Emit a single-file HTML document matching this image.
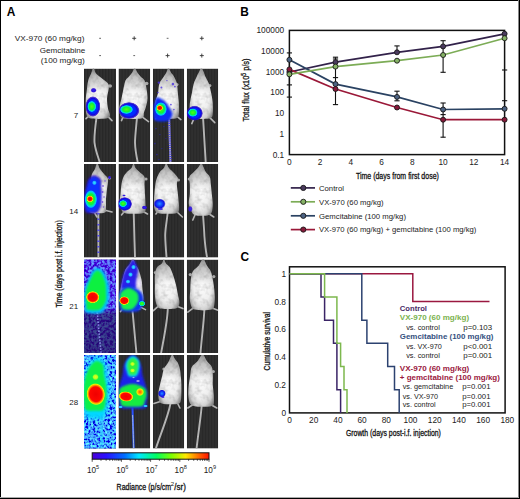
<!DOCTYPE html>
<html><head><meta charset="utf-8"><style>
html,body{margin:0;padding:0;background:#fff;}
svg text{font-family:"Liberation Sans", sans-serif;}
</style></head><body>
<svg width="520" height="499" viewBox="0 0 520 499" style="display:block">

<defs>
  <radialGradient id="mbody" cx="0.5" cy="0.5" r="0.62">
    <stop offset="0" stop-color="#fcfcfc"/>
    <stop offset="0.55" stop-color="#efefef"/>
    <stop offset="0.82" stop-color="#cdcdcd"/>
    <stop offset="1" stop-color="#8a8a8a"/>
  </radialGradient>
  <filter id="fur" x="-0.2" y="-0.1" width="1.4" height="1.2">
    <feTurbulence type="fractalNoise" baseFrequency="0.2" numOctaves="2" seed="7" result="t"/>
    <feColorMatrix in="t" type="matrix" values="0 0 0 0 0.25  0 0 0 0 0.25  0 0 0 0 0.25  1.2 0 0 0 -0.52" result="dark"/>
    <feComposite in="dark" in2="SourceGraphic" operator="atop" result="d2"/>
    <feGaussianBlur in="d2" stdDeviation="0.55"/>
  </filter>
  <filter id="soft" x="-0.2" y="-0.2" width="1.4" height="1.4"><feGaussianBlur stdDeviation="0.5"/></filter>
  <filter id="blur1" x="-0.3" y="-0.3" width="1.6" height="1.6"><feGaussianBlur stdDeviation="1"/></filter>
  <filter id="blur2" x="-0.3" y="-0.3" width="1.6" height="1.6"><feGaussianBlur stdDeviation="2"/></filter>
  <filter id="noiseB" x="0" y="0" width="1" height="1">
    <feTurbulence type="fractalNoise" baseFrequency="0.38" numOctaves="2" seed="4" result="n"/>
    <feColorMatrix type="matrix" in="n" values="0.25 0 0 0 -0.04  1.0 0 0 0 -0.42  1.1 0 0 0 0.27  0 0 0 0 1"/>
  </filter>
  <filter id="noiseB2" x="0" y="0" width="1" height="1">
    <feTurbulence type="fractalNoise" baseFrequency="0.42" numOctaves="2" seed="9" result="n"/>
    <feColorMatrix type="matrix" in="n" values="0.3 0 0 0 -0.1  2.4 0 0 0 -0.85  1.2 0 0 0 0.4  0 0 0 0 1"/>
  </filter>
  <linearGradient id="cbar" x1="0" x2="1" y1="0" y2="0">
    <stop offset="0" stop-color="#4a00d8"/>
    <stop offset="0.12" stop-color="#2a10ff"/>
    <stop offset="0.28" stop-color="#0070ff"/>
    <stop offset="0.4" stop-color="#00e8ff"/>
    <stop offset="0.55" stop-color="#00ff60"/>
    <stop offset="0.68" stop-color="#80ff00"/>
    <stop offset="0.8" stop-color="#ffe800"/>
    <stop offset="0.92" stop-color="#ff6000"/>
    <stop offset="1" stop-color="#ff1000"/>
  </linearGradient>
  <radialGradient id="lumR2">
    <stop offset="0" stop-color="#e80000"/>
    <stop offset="0.18" stop-color="#ff1800"/>
    <stop offset="0.28" stop-color="#ffd800"/>
    <stop offset="0.42" stop-color="#30ff20"/>
    <stop offset="0.58" stop-color="#00d8ff"/>
    <stop offset="0.74" stop-color="#0030ff"/>
    <stop offset="0.9" stop-color="#3010d0" stop-opacity="0.85"/>
    <stop offset="1" stop-color="#3010d0" stop-opacity="0"/>
  </radialGradient>
  <radialGradient id="lumRcore">
    <stop offset="0" stop-color="#f00000"/>
    <stop offset="0.66" stop-color="#ff0800"/>
    <stop offset="0.78" stop-color="#ff8000"/>
    <stop offset="0.9" stop-color="#f0f000"/>
    <stop offset="1" stop-color="#80ff20" stop-opacity="0"/>
  </radialGradient>
  <radialGradient id="lumG">
    <stop offset="0" stop-color="#a0ff20"/>
    <stop offset="0.25" stop-color="#20f040"/>
    <stop offset="0.45" stop-color="#00d8e0"/>
    <stop offset="0.65" stop-color="#0040ff"/>
    <stop offset="0.85" stop-color="#2a10d8" stop-opacity="0.9"/>
    <stop offset="1" stop-color="#2a10d8" stop-opacity="0"/>
  </radialGradient>
  <radialGradient id="lumBring">
    <stop offset="0" stop-color="#0038ff"/>
    <stop offset="0.62" stop-color="#0028ff"/>
    <stop offset="0.8" stop-color="#1408d8"/>
    <stop offset="0.92" stop-color="#3010c8" stop-opacity="0.75"/>
    <stop offset="1" stop-color="#4020c0" stop-opacity="0"/>
  </radialGradient>
  <radialGradient id="lumGcore">
    <stop offset="0" stop-color="#50ff10"/>
    <stop offset="0.55" stop-color="#10f038"/>
    <stop offset="0.72" stop-color="#00e8b0"/>
    <stop offset="0.86" stop-color="#00c0ff"/>
    <stop offset="1" stop-color="#0060ff" stop-opacity="0"/>
  </radialGradient>
  <radialGradient id="lumRsmall">
    <stop offset="0" stop-color="#e00000"/>
    <stop offset="0.5" stop-color="#ff1000"/>
    <stop offset="0.7" stop-color="#ff9000"/>
    <stop offset="0.85" stop-color="#f0f000"/>
    <stop offset="1" stop-color="#a0ff20" stop-opacity="0"/>
  </radialGradient>
  <radialGradient id="lumB">
    <stop offset="0" stop-color="#2a20f0"/>
    <stop offset="0.6" stop-color="#3414d8"/>
    <stop offset="1" stop-color="#3010d0" stop-opacity="0"/>
  </radialGradient>
  <radialGradient id="lumB2">
    <stop offset="0" stop-color="#3090ff"/>
    <stop offset="0.35" stop-color="#1050ff"/>
    <stop offset="0.75" stop-color="#1010e0"/>
    <stop offset="1" stop-color="#2010c0" stop-opacity="0"/>
  </radialGradient>
  <radialGradient id="lumC">
    <stop offset="0" stop-color="#30e8ff"/>
    <stop offset="0.6" stop-color="#20b0ff"/>
    <stop offset="1" stop-color="#2060ff" stop-opacity="0"/>
  </radialGradient>
  <radialGradient id="lumY">
    <stop offset="0" stop-color="#e8ff20"/>
    <stop offset="0.6" stop-color="#b0ff20"/>
    <stop offset="1" stop-color="#40ff40" stop-opacity="0"/>
  </radialGradient>
  <radialGradient id="lumOr">
    <stop offset="0" stop-color="#ff5000"/>
    <stop offset="0.4" stop-color="#ffa000"/>
    <stop offset="0.75" stop-color="#f0f000"/>
    <stop offset="1" stop-color="#80ff20" stop-opacity="0"/>
  </radialGradient>
  <radialGradient id="lumW">
    <stop offset="0" stop-color="#f0e0ff"/>
    <stop offset="1" stop-color="#c0a0ff" stop-opacity="0"/>
  </radialGradient>
  <linearGradient id="darkfade" x1="0" x2="0" y1="0" y2="1">
    <stop offset="0" stop-color="#1a1040" stop-opacity="0"/>
    <stop offset="0.15" stop-color="#1a1040" stop-opacity="0.55"/>
    <stop offset="1" stop-color="#1a1040" stop-opacity="0.62"/>
  </linearGradient>
  <linearGradient id="headshade" x1="0" x2="0" y1="0" y2="1">
    <stop offset="0" stop-color="#000" stop-opacity="0.28"/>
    <stop offset="0.3" stop-color="#000" stop-opacity="0.12"/>
    <stop offset="0.5" stop-color="#000" stop-opacity="0"/>
    <stop offset="1" stop-color="#000" stop-opacity="0"/>
  </linearGradient>
  <pattern id="streak" width="3" height="10" patternUnits="userSpaceOnUse">
    <rect width="1.5" height="10" fill="#000"/>
    <rect x="1.5" width="1.5" height="10" fill="#777"/>
  </pattern>
</defs>

<rect x="0" y="0" width="520" height="499" fill="#fff"/>
<text x="6.8" y="15.7" font-size="11.9" font-weight="bold" fill="#000">A</text>
<text x="84.4" y="41.0" font-size="8.1" text-anchor="end" textLength="69.6" lengthAdjust="spacingAndGlyphs" fill="#222">VX-970 (60 mg/kg)</text>
<text x="85.2" y="53.0" font-size="8.1" text-anchor="end" textLength="45.4" lengthAdjust="spacingAndGlyphs" fill="#222">Gemcitabine</text>
<text x="84.8" y="62.6" font-size="8.1" text-anchor="end" textLength="44.0" lengthAdjust="spacingAndGlyphs" fill="#222">(100 mg/kg)</text>
<line x1="99.19999999999999" y1="38.3" x2="101.0" y2="38.3" stroke="#555" stroke-width="0.9"/>
<path d="M132.2,38.3 H136.2 M134.2,36.3 V40.3" stroke="#333" stroke-width="0.9"/>
<line x1="166.7" y1="38.3" x2="168.5" y2="38.3" stroke="#555" stroke-width="0.9"/>
<path d="M199.8,38.3 H203.8 M201.8,36.3 V40.3" stroke="#333" stroke-width="0.9"/>
<line x1="99.19999999999999" y1="55.6" x2="101.0" y2="55.6" stroke="#555" stroke-width="0.9"/>
<line x1="133.29999999999998" y1="55.6" x2="135.1" y2="55.6" stroke="#555" stroke-width="0.9"/>
<path d="M165.6,55.6 H169.6 M167.6,53.6 V57.6" stroke="#333" stroke-width="0.9"/>
<path d="M199.8,55.6 H203.8 M201.8,53.6 V57.6" stroke="#333" stroke-width="0.9"/>
<text x="78.2" y="118.1" font-size="8" text-anchor="end" fill="#222">7</text>
<text x="78.2" y="213.6" font-size="8" text-anchor="end" fill="#222">14</text>
<text x="78.2" y="309.1" font-size="8" text-anchor="end" fill="#222">21</text>
<text x="78.2" y="404.6" font-size="8" text-anchor="end" fill="#222">28</text>
<text transform="translate(61.8,307.6) rotate(-90)" font-size="9" textLength="87.3" lengthAdjust="spacingAndGlyphs" fill="#111" stroke="#111" stroke-width="0.3">Time (days post i.f. injection)</text>
<svg x="84.0" y="68.6" width="32.0" height="93.4" viewBox="0 0 32.0 93.4" overflow="hidden">
<rect width="32.0" height="93.4" fill="#2b2b2b"/>
<rect width="32.0" height="93.4" fill="url(#streak)" opacity="0.07"/>
<path d="M12.5,49 C11,60 10,68 10.5,74 C11.5,82 14,88 15.7,93.5" stroke="#b4b4b4" stroke-width="1.9" fill="none" stroke-linecap="round"/>
<path d="M23,47 L28,52" stroke="#b4b4b4" stroke-width="1.6" fill="none" stroke-linecap="round"/>
<path d="M5,47 L2,50" stroke="#b4b4b4" stroke-width="1.6" fill="none" stroke-linecap="round"/>
<ellipse cx="26" cy="17.5" rx="2.00" ry="1.76" fill="#a8a8a8" filter="url(#soft)"/>
<path d="M9.50,-0.50 C10.30,-0.50 10.58,3.25 12.00,5.00 C13.42,6.75 16.00,8.33 18.00,10.00 C20.00,11.67 22.88,13.33 24.00,15.00 C25.12,16.67 24.87,17.50 24.70,20.00 C24.53,22.50 23.12,26.67 23.00,30.00 C22.88,33.33 23.52,37.33 24.00,40.00 C24.48,42.67 25.90,44.42 25.90,46.00 C25.90,47.58 25.90,48.78 24.00,49.50 C22.10,50.22 17.67,50.30 14.50,50.30 C11.33,50.30 7.02,50.22 5.00,49.50 C2.98,48.78 2.93,47.58 2.40,46.00 C1.87,44.42 1.90,42.67 1.80,40.00 C1.70,37.33 1.60,33.33 1.80,30.00 C2.00,26.67 2.70,22.50 3.00,20.00 C3.30,17.50 3.30,16.67 3.60,15.00 C3.90,13.33 4.20,11.67 4.80,10.00 C5.40,8.33 6.42,6.75 7.20,5.00 C7.98,3.25 8.70,-0.50 9.50,-0.50 Z" fill="url(#mbody)" filter="url(#fur)"/>
<path d="M9.50,-0.50 C10.30,-0.50 10.58,3.25 12.00,5.00 C13.42,6.75 16.00,8.33 18.00,10.00 C20.00,11.67 22.88,13.33 24.00,15.00 C25.12,16.67 24.87,17.50 24.70,20.00 C24.53,22.50 23.12,26.67 23.00,30.00 C22.88,33.33 23.52,37.33 24.00,40.00 C24.48,42.67 25.90,44.42 25.90,46.00 C25.90,47.58 25.90,48.78 24.00,49.50 C22.10,50.22 17.67,50.30 14.50,50.30 C11.33,50.30 7.02,50.22 5.00,49.50 C2.98,48.78 2.93,47.58 2.40,46.00 C1.87,44.42 1.90,42.67 1.80,40.00 C1.70,37.33 1.60,33.33 1.80,30.00 C2.00,26.67 2.70,22.50 3.00,20.00 C3.30,17.50 3.30,16.67 3.60,15.00 C3.90,13.33 4.20,11.67 4.80,10.00 C5.40,8.33 6.42,6.75 7.20,5.00 C7.98,3.25 8.70,-0.50 9.50,-0.50 Z" fill="url(#headshade)" filter="url(#soft)"/>
<ellipse cx="8.9" cy="37.9" rx="7.6" ry="10.4" fill="url(#lumBring)" opacity="1.0"/>
<ellipse cx="7.8" cy="37.9" rx="4.6" ry="5.8" fill="url(#lumGcore)" opacity="1.0"/>
<ellipse cx="9.6" cy="21.7" rx="3.2" ry="2.6" fill="url(#lumB)" opacity="1.0"/>
</svg>
<svg x="118.5" y="68.6" width="31.7" height="93.4" viewBox="0 0 31.7 93.4" overflow="hidden">
<rect width="31.7" height="93.4" fill="#2b2b2b"/>
<rect width="31.7" height="93.4" fill="url(#streak)" opacity="0.07"/>
<path d="M18.5,49 C17.5,60 16.5,68 16.5,74 C16.7,82 18,88 19.2,93.5" stroke="#b4b4b4" stroke-width="1.9" fill="none" stroke-linecap="round"/>
<path d="M22,47 L30,53" stroke="#b4b4b4" stroke-width="1.6" fill="none" stroke-linecap="round"/>
<path d="M5,47 L3,52" stroke="#b4b4b4" stroke-width="1.6" fill="none" stroke-linecap="round"/>
<ellipse cx="28" cy="15" rx="1.92" ry="1.76" fill="#a8a8a8" filter="url(#soft)"/>
<path d="M16.20,-0.50 C17.03,-0.50 17.83,2.58 18.80,4.00 C19.77,5.42 20.80,6.67 22.00,8.00 C23.20,9.33 25.00,10.00 26.00,12.00 C27.00,14.00 27.50,17.00 28.00,20.00 C28.50,23.00 29.08,27.00 29.00,30.00 C28.92,33.00 28.08,35.67 27.50,38.00 C26.92,40.33 26.08,42.08 25.50,44.00 C24.92,45.92 25.92,48.45 24.00,49.50 C22.08,50.55 17.33,50.30 14.00,50.30 C10.67,50.30 6.17,50.55 4.00,49.50 C1.83,48.45 1.50,45.92 1.00,44.00 C0.50,42.08 0.67,40.33 1.00,38.00 C1.33,35.67 2.33,33.00 3.00,30.00 C3.67,27.00 4.33,23.00 5.00,20.00 C5.67,17.00 6.08,14.00 7.00,12.00 C7.92,10.00 9.37,9.33 10.50,8.00 C11.63,6.67 12.85,5.42 13.80,4.00 C14.75,2.58 15.37,-0.50 16.20,-0.50 Z" fill="url(#mbody)" filter="url(#fur)"/>
<path d="M16.20,-0.50 C17.03,-0.50 17.83,2.58 18.80,4.00 C19.77,5.42 20.80,6.67 22.00,8.00 C23.20,9.33 25.00,10.00 26.00,12.00 C27.00,14.00 27.50,17.00 28.00,20.00 C28.50,23.00 29.08,27.00 29.00,30.00 C28.92,33.00 28.08,35.67 27.50,38.00 C26.92,40.33 26.08,42.08 25.50,44.00 C24.92,45.92 25.92,48.45 24.00,49.50 C22.08,50.55 17.33,50.30 14.00,50.30 C10.67,50.30 6.17,50.55 4.00,49.50 C1.83,48.45 1.50,45.92 1.00,44.00 C0.50,42.08 0.67,40.33 1.00,38.00 C1.33,35.67 2.33,33.00 3.00,30.00 C3.67,27.00 4.33,23.00 5.00,20.00 C5.67,17.00 6.08,14.00 7.00,12.00 C7.92,10.00 9.37,9.33 10.50,8.00 C11.63,6.67 12.85,5.42 13.80,4.00 C14.75,2.58 15.37,-0.50 16.20,-0.50 Z" fill="url(#headshade)" filter="url(#soft)"/>
<ellipse cx="10.5" cy="41.9" rx="10.6" ry="8.6" fill="url(#lumBring)" opacity="1.0"/>
<ellipse cx="8.0" cy="40.9" rx="6.8" ry="4.6" fill="url(#lumGcore)" opacity="1.0"/>
</svg>
<svg x="152.9" y="68.6" width="31.3" height="93.4" viewBox="0 0 31.3 93.4" overflow="hidden">
<rect width="31.3" height="93.4" fill="#2b2b2b"/>
<rect width="31.3" height="93.4" fill="url(#streak)" opacity="0.07"/>
<path d="M16.2,49 C16.6,62 17,78 17.5,93.5" stroke="#b4b4b4" stroke-width="1.9" fill="none" stroke-linecap="round"/>
<path d="M23,47 L28,51" stroke="#b4b4b4" stroke-width="1.6" fill="none" stroke-linecap="round"/>
<path d="M8,47 L3,50" stroke="#b4b4b4" stroke-width="1.6" fill="none" stroke-linecap="round"/>
<ellipse cx="24" cy="16" rx="1.60" ry="1.60" fill="#a8a8a8" filter="url(#soft)"/>
<path d="M15.60,-0.50 C16.35,-0.50 17.10,2.58 18.00,4.00 C18.90,5.42 20.00,6.17 21.00,8.00 C22.00,9.83 23.33,12.17 24.00,15.00 C24.67,17.83 24.67,21.67 25.00,25.00 C25.33,28.33 25.83,31.67 26.00,35.00 C26.17,38.33 26.33,42.58 26.00,45.00 C25.67,47.42 25.67,48.62 24.00,49.50 C22.33,50.38 18.67,50.30 16.00,50.30 C13.33,50.30 10.17,50.38 8.00,49.50 C5.83,48.62 4.00,47.42 3.00,45.00 C2.00,42.58 1.67,38.33 2.00,35.00 C2.33,31.67 4.25,28.33 5.00,25.00 C5.75,21.67 5.50,17.83 6.50,15.00 C7.50,12.17 9.83,9.83 11.00,8.00 C12.17,6.17 12.73,5.42 13.50,4.00 C14.27,2.58 14.85,-0.50 15.60,-0.50 Z" fill="url(#mbody)" filter="url(#fur)"/>
<path d="M15.60,-0.50 C16.35,-0.50 17.10,2.58 18.00,4.00 C18.90,5.42 20.00,6.17 21.00,8.00 C22.00,9.83 23.33,12.17 24.00,15.00 C24.67,17.83 24.67,21.67 25.00,25.00 C25.33,28.33 25.83,31.67 26.00,35.00 C26.17,38.33 26.33,42.58 26.00,45.00 C25.67,47.42 25.67,48.62 24.00,49.50 C22.33,50.38 18.67,50.30 16.00,50.30 C13.33,50.30 10.17,50.38 8.00,49.50 C5.83,48.62 4.00,47.42 3.00,45.00 C2.00,42.58 1.67,38.33 2.00,35.00 C2.33,31.67 4.25,28.33 5.00,25.00 C5.75,21.67 5.50,17.83 6.50,15.00 C7.50,12.17 9.83,9.83 11.00,8.00 C12.17,6.17 12.73,5.42 13.50,4.00 C14.27,2.58 14.85,-0.50 15.60,-0.50 Z" fill="url(#headshade)" filter="url(#soft)"/>
<g fill="#4a30e0" opacity="0.8" filter="url(#soft)"><circle cx="6" cy="14" r="1.2"/><circle cx="8.5" cy="19" r="1"/><circle cx="20" cy="15.5" r="1.3"/><circle cx="22" cy="18" r="0.9"/><circle cx="18" cy="36" r="0.9"/><circle cx="21" cy="41" r="0.8"/><circle cx="14" cy="12" r="0.7"/><circle cx="5" cy="24" r="0.8"/></g>
<path d="M16.3,50 C16.7,62 17.1,78 17.6,93.5" stroke="#3a30ff" stroke-width="2.4" stroke-dasharray="1 1.2" fill="none" opacity="0.85"/>
<g fill="#2a20e0" opacity="0.55"><circle cx="3" cy="60" r="0.8"/><circle cx="7" cy="66" r="0.7"/><circle cx="2" cy="75" r="0.8"/><circle cx="9" cy="80" r="0.6"/><circle cx="4" cy="86" r="0.8"/><circle cx="11" cy="58" r="0.7"/><circle cx="13" cy="70" r="0.6"/><circle cx="6" cy="91" r="0.7"/></g>
<path d="M4.50,29.00 C6.17,29.00 9.92,31.17 12.00,33.00 C14.08,34.83 15.75,37.83 17.00,40.00 C18.25,42.17 19.67,44.00 19.50,46.00 C19.33,48.00 17.75,50.87 16.00,52.00 C14.25,53.13 11.33,52.80 9.00,52.80 C6.67,52.80 3.42,53.13 2.00,52.00 C0.58,50.87 0.75,48.00 0.50,46.00 C0.25,44.00 0.25,42.17 0.50,40.00 C0.75,37.83 1.33,34.83 2.00,33.00 C2.67,31.17 2.83,29.00 4.50,29.00 Z" fill="#0a2cf8" filter="url(#blur1)"/>
<ellipse cx="8.0" cy="40.5" rx="6.2" ry="7.2" fill="url(#lumGcore)" opacity="1.0"/>
<ellipse cx="6.9" cy="39.3" rx="3.4" ry="3.0" fill="url(#lumRsmall)" opacity="1.0"/>
</svg>
<svg x="186.8" y="68.6" width="31.4" height="93.4" viewBox="0 0 31.4 93.4" overflow="hidden">
<rect width="31.4" height="93.4" fill="#2b2b2b"/>
<rect width="31.4" height="93.4" fill="url(#streak)" opacity="0.07"/>
<path d="M16.3,50 C17,62 18,78 18.9,93.5" stroke="#b4b4b4" stroke-width="1.9" fill="none" stroke-linecap="round"/>
<path d="M22,48 L28,54" stroke="#b4b4b4" stroke-width="1.6" fill="none" stroke-linecap="round"/>
<path d="M8,48 L5,55" stroke="#b4b4b4" stroke-width="1.6" fill="none" stroke-linecap="round"/>
<ellipse cx="23" cy="17" rx="1.60" ry="1.60" fill="#a8a8a8" filter="url(#soft)"/>
<path d="M14.60,-0.50 C15.43,-0.50 16.35,2.58 17.00,4.00 C17.65,5.42 17.67,6.17 18.50,8.00 C19.33,9.83 21.00,12.17 22.00,15.00 C23.00,17.83 23.83,21.67 24.50,25.00 C25.17,28.33 25.75,31.67 26.00,35.00 C26.25,38.33 26.33,42.58 26.00,45.00 C25.67,47.42 25.83,48.62 24.00,49.50 C22.17,50.38 18.00,50.30 15.00,50.30 C12.00,50.30 8.00,50.38 6.00,49.50 C4.00,48.62 3.50,47.42 3.00,45.00 C2.50,42.58 2.67,38.33 3.00,35.00 C3.33,31.67 4.33,28.33 5.00,25.00 C5.67,21.67 6.17,17.83 7.00,15.00 C7.83,12.17 9.17,9.83 10.00,8.00 C10.83,6.17 11.23,5.42 12.00,4.00 C12.77,2.58 13.77,-0.50 14.60,-0.50 Z" fill="url(#mbody)" filter="url(#fur)"/>
<path d="M14.60,-0.50 C15.43,-0.50 16.35,2.58 17.00,4.00 C17.65,5.42 17.67,6.17 18.50,8.00 C19.33,9.83 21.00,12.17 22.00,15.00 C23.00,17.83 23.83,21.67 24.50,25.00 C25.17,28.33 25.75,31.67 26.00,35.00 C26.25,38.33 26.33,42.58 26.00,45.00 C25.67,47.42 25.83,48.62 24.00,49.50 C22.17,50.38 18.00,50.30 15.00,50.30 C12.00,50.30 8.00,50.38 6.00,49.50 C4.00,48.62 3.50,47.42 3.00,45.00 C2.50,42.58 2.67,38.33 3.00,35.00 C3.33,31.67 4.33,28.33 5.00,25.00 C5.67,21.67 6.17,17.83 7.00,15.00 C7.83,12.17 9.17,9.83 10.00,8.00 C10.83,6.17 11.23,5.42 12.00,4.00 C12.77,2.58 13.77,-0.50 14.60,-0.50 Z" fill="url(#headshade)" filter="url(#soft)"/>
<ellipse cx="7.8" cy="44.6" rx="8.4" ry="7.6" fill="url(#lumBring)" opacity="1.0"/>
<ellipse cx="6.0" cy="44.0" rx="5.0" ry="4.3" fill="url(#lumGcore)" opacity="1.0"/>
</svg>
<svg x="84.0" y="164.0" width="32.0" height="93.6" viewBox="0 0 32.0 93.6" overflow="hidden">
<rect width="32.0" height="93.6" fill="#2b2b2b"/>
<rect width="32.0" height="93.6" fill="url(#streak)" opacity="0.07"/>
<path d="M14.4,48 L14.4,93" stroke="#b4b4b4" stroke-width="1.9" fill="none" stroke-linecap="round"/>
<path d="M20,46 L28,48" stroke="#b4b4b4" stroke-width="1.6" fill="none" stroke-linecap="round"/>
<path d="M9,46 L13,53" stroke="#b4b4b4" stroke-width="1.6" fill="none" stroke-linecap="round"/>
<ellipse cx="25.5" cy="14" rx="1.60" ry="1.60" fill="#a8a8a8" filter="url(#soft)"/>
<path d="M13.20,-0.50 C14.03,-0.50 14.87,3.25 16.00,5.00 C17.13,6.75 18.67,8.33 20.00,10.00 C21.33,11.67 23.50,12.50 24.00,15.00 C24.50,17.50 23.33,21.67 23.00,25.00 C22.67,28.33 22.17,31.67 22.00,35.00 C21.83,38.33 22.17,42.75 22.00,45.00 C21.83,47.25 22.42,47.78 21.00,48.50 C19.58,49.22 16.00,49.30 13.50,49.30 C11.00,49.30 7.58,49.22 6.00,48.50 C4.42,47.78 4.67,47.25 4.00,45.00 C3.33,42.75 2.00,38.33 2.00,35.00 C2.00,31.67 3.17,28.33 4.00,25.00 C4.83,21.67 6.33,17.50 7.00,15.00 C7.67,12.50 7.33,11.67 8.00,10.00 C8.67,8.33 10.13,6.75 11.00,5.00 C11.87,3.25 12.37,-0.50 13.20,-0.50 Z" fill="url(#mbody)" filter="url(#fur)"/>
<path d="M13.20,-0.50 C14.03,-0.50 14.87,3.25 16.00,5.00 C17.13,6.75 18.67,8.33 20.00,10.00 C21.33,11.67 23.50,12.50 24.00,15.00 C24.50,17.50 23.33,21.67 23.00,25.00 C22.67,28.33 22.17,31.67 22.00,35.00 C21.83,38.33 22.17,42.75 22.00,45.00 C21.83,47.25 22.42,47.78 21.00,48.50 C19.58,49.22 16.00,49.30 13.50,49.30 C11.00,49.30 7.58,49.22 6.00,48.50 C4.42,47.78 4.67,47.25 4.00,45.00 C3.33,42.75 2.00,38.33 2.00,35.00 C2.00,31.67 3.17,28.33 4.00,25.00 C4.83,21.67 6.33,17.50 7.00,15.00 C7.67,12.50 7.33,11.67 8.00,10.00 C8.67,8.33 10.13,6.75 11.00,5.00 C11.87,3.25 12.37,-0.50 13.20,-0.50 Z" fill="url(#headshade)" filter="url(#soft)"/>
<path d="M10.00,11.50 C12.00,11.50 15.33,13.25 16.50,15.00 C17.67,16.75 16.83,19.50 17.00,22.00 C17.17,24.50 17.50,27.00 17.50,30.00 C17.50,33.00 17.33,37.50 17.00,40.00 C16.67,42.50 16.17,43.58 15.50,45.00 C14.83,46.42 14.33,47.78 13.00,48.50 C11.67,49.22 9.33,49.30 7.50,49.30 C5.67,49.30 3.08,49.22 2.00,48.50 C0.92,47.78 1.33,46.42 1.00,45.00 C0.67,43.58 0.08,42.50 0.00,40.00 C-0.08,37.50 0.08,33.00 0.50,30.00 C0.92,27.00 1.83,24.50 2.50,22.00 C3.17,19.50 3.25,16.75 4.50,15.00 C5.75,13.25 8.00,11.50 10.00,11.50 Z" fill="#3010c8" filter="url(#blur1)" opacity="0.9"/>
<path d="M10.00,13.00 C11.67,13.00 14.50,14.50 15.50,16.00 C16.50,17.50 15.83,19.67 16.00,22.00 C16.17,24.33 16.50,27.00 16.50,30.00 C16.50,33.00 16.33,37.67 16.00,40.00 C15.67,42.33 15.17,42.83 14.50,44.00 C13.83,45.17 13.17,46.37 12.00,47.00 C10.83,47.63 9.00,47.80 7.50,47.80 C6.00,47.80 3.92,47.63 3.00,47.00 C2.08,46.37 2.33,45.17 2.00,44.00 C1.67,42.83 1.08,42.33 1.00,40.00 C0.92,37.67 1.08,33.00 1.50,30.00 C1.92,27.00 2.83,24.33 3.50,22.00 C4.17,19.67 4.42,17.50 5.50,16.00 C6.58,14.50 8.33,13.00 10.00,13.00 Z" fill="#0a30ff" filter="url(#blur1)"/>
<g fill="#5a30d8" opacity="0.7" filter="url(#soft)"><circle cx="19" cy="22" r="0.9"/><circle cx="18.5" cy="28" r="1"/><circle cx="20" cy="33" r="0.8"/><circle cx="18.5" cy="38" r="0.9"/><circle cx="19.5" cy="43" r="0.8"/><circle cx="21" cy="17" r="0.8"/></g>
<ellipse cx="6.9" cy="35.2" rx="6.4" ry="9.4" fill="url(#lumGcore)" opacity="1.0"/>
<ellipse cx="6.0" cy="34.9" rx="3.6" ry="3.4" fill="url(#lumRsmall)" opacity="1.0"/>
<ellipse cx="10.4" cy="18.8" rx="2.6" ry="2.6" fill="url(#lumC)" opacity="1.0"/>
<ellipse cx="25.5" cy="13.5" rx="1.6" ry="2" fill="url(#lumB)" opacity="1.0"/>
<path d="M14.4,49 L14.4,93" stroke="#3a30ff" stroke-width="2.2" stroke-dasharray="1.5 4" fill="none" opacity="0.75"/>
</svg>
<svg x="118.5" y="164.0" width="31.7" height="93.6" viewBox="0 0 31.7 93.6" overflow="hidden">
<rect width="31.7" height="93.6" fill="#2b2b2b"/>
<rect width="31.7" height="93.6" fill="url(#streak)" opacity="0.07"/>
<path d="M15.2,48 C15.5,62 16,78 16.5,93" stroke="#b4b4b4" stroke-width="1.9" fill="none" stroke-linecap="round"/>
<path d="M22,46 L29,50" stroke="#b4b4b4" stroke-width="1.6" fill="none" stroke-linecap="round"/>
<path d="M7,46 L3,51" stroke="#b4b4b4" stroke-width="1.6" fill="none" stroke-linecap="round"/>
<ellipse cx="27.5" cy="15" rx="1.60" ry="1.60" fill="#a8a8a8" filter="url(#soft)"/>
<path d="M15.10,-0.50 C15.77,-0.50 16.02,2.58 17.00,4.00 C17.98,5.42 19.50,6.50 21.00,8.00 C22.50,9.50 25.17,11.00 26.00,13.00 C26.83,15.00 25.92,17.17 26.00,20.00 C26.08,22.83 26.33,26.67 26.50,30.00 C26.67,33.33 26.92,37.33 27.00,40.00 C27.08,42.67 27.33,44.50 27.00,46.00 C26.67,47.50 26.92,48.37 25.00,49.00 C23.08,49.63 18.67,49.80 15.50,49.80 C12.33,49.80 8.08,49.63 6.00,49.00 C3.92,48.37 3.83,47.50 3.00,46.00 C2.17,44.50 1.17,42.67 1.00,40.00 C0.83,37.33 1.67,33.33 2.00,30.00 C2.33,26.67 2.50,22.83 3.00,20.00 C3.50,17.17 4.08,15.00 5.00,13.00 C5.92,11.00 7.17,9.50 8.50,8.00 C9.83,6.50 11.90,5.42 13.00,4.00 C14.10,2.58 14.43,-0.50 15.10,-0.50 Z" fill="url(#mbody)" filter="url(#fur)"/>
<path d="M15.10,-0.50 C15.77,-0.50 16.02,2.58 17.00,4.00 C17.98,5.42 19.50,6.50 21.00,8.00 C22.50,9.50 25.17,11.00 26.00,13.00 C26.83,15.00 25.92,17.17 26.00,20.00 C26.08,22.83 26.33,26.67 26.50,30.00 C26.67,33.33 26.92,37.33 27.00,40.00 C27.08,42.67 27.33,44.50 27.00,46.00 C26.67,47.50 26.92,48.37 25.00,49.00 C23.08,49.63 18.67,49.80 15.50,49.80 C12.33,49.80 8.08,49.63 6.00,49.00 C3.92,48.37 3.83,47.50 3.00,46.00 C2.17,44.50 1.17,42.67 1.00,40.00 C0.83,37.33 1.67,33.33 2.00,30.00 C2.33,26.67 2.50,22.83 3.00,20.00 C3.50,17.17 4.08,15.00 5.00,13.00 C5.92,11.00 7.17,9.50 8.50,8.00 C9.83,6.50 11.90,5.42 13.00,4.00 C14.10,2.58 14.43,-0.50 15.10,-0.50 Z" fill="url(#headshade)" filter="url(#soft)"/>
<ellipse cx="6.2" cy="40.0" rx="7.4" ry="7.0" fill="url(#lumBring)" opacity="1.0"/>
<ellipse cx="4.6" cy="39.6" rx="4.2" ry="3.6" fill="url(#lumGcore)" opacity="1.0"/>
<ellipse cx="5.5" cy="31.5" rx="1.8" ry="1.2" fill="url(#lumB)" opacity="1.0"/>
<ellipse cx="26.0" cy="43.5" rx="3" ry="2" fill="url(#lumB)" opacity="1.0"/>
</svg>
<svg x="152.9" y="164.0" width="31.3" height="93.6" viewBox="0 0 31.3 93.6" overflow="hidden">
<rect width="31.3" height="93.6" fill="#2b2b2b"/>
<rect width="31.3" height="93.6" fill="url(#streak)" opacity="0.07"/>
<path d="M14.9,48 C13.5,60 12.2,66 12.3,72 C12.5,80 13.2,88 13.6,93" stroke="#b4b4b4" stroke-width="1.9" fill="none" stroke-linecap="round"/>
<path d="M22,46 L29.5,53" stroke="#b4b4b4" stroke-width="1.6" fill="none" stroke-linecap="round"/>
<path d="M6,46 L3,50" stroke="#b4b4b4" stroke-width="1.6" fill="none" stroke-linecap="round"/>
<ellipse cx="25.5" cy="16" rx="1.60" ry="1.60" fill="#a8a8a8" filter="url(#soft)"/>
<path d="M13.30,-0.50 C14.13,-0.50 14.88,2.58 16.00,4.00 C17.12,5.42 18.50,6.33 20.00,8.00 C21.50,9.67 24.33,12.00 25.00,14.00 C25.67,16.00 24.00,17.33 24.00,20.00 C24.00,22.67 24.67,26.67 25.00,30.00 C25.33,33.33 25.83,37.33 26.00,40.00 C26.17,42.67 26.33,44.50 26.00,46.00 C25.67,47.50 25.92,48.37 24.00,49.00 C22.08,49.63 17.67,49.80 14.50,49.80 C11.33,49.80 7.08,49.63 5.00,49.00 C2.92,48.37 2.67,47.50 2.00,46.00 C1.33,44.50 1.08,42.67 1.00,40.00 C0.92,37.33 1.25,33.33 1.50,30.00 C1.75,26.67 2.08,22.67 2.50,20.00 C2.92,17.33 3.25,16.00 4.00,14.00 C4.75,12.00 5.83,9.67 7.00,8.00 C8.17,6.33 9.95,5.42 11.00,4.00 C12.05,2.58 12.47,-0.50 13.30,-0.50 Z" fill="url(#mbody)" filter="url(#fur)"/>
<path d="M13.30,-0.50 C14.13,-0.50 14.88,2.58 16.00,4.00 C17.12,5.42 18.50,6.33 20.00,8.00 C21.50,9.67 24.33,12.00 25.00,14.00 C25.67,16.00 24.00,17.33 24.00,20.00 C24.00,22.67 24.67,26.67 25.00,30.00 C25.33,33.33 25.83,37.33 26.00,40.00 C26.17,42.67 26.33,44.50 26.00,46.00 C25.67,47.50 25.92,48.37 24.00,49.00 C22.08,49.63 17.67,49.80 14.50,49.80 C11.33,49.80 7.08,49.63 5.00,49.00 C2.92,48.37 2.67,47.50 2.00,46.00 C1.33,44.50 1.08,42.67 1.00,40.00 C0.92,37.33 1.25,33.33 1.50,30.00 C1.75,26.67 2.08,22.67 2.50,20.00 C2.92,17.33 3.25,16.00 4.00,14.00 C4.75,12.00 5.83,9.67 7.00,8.00 C8.17,6.33 9.95,5.42 11.00,4.00 C12.05,2.58 12.47,-0.50 13.30,-0.50 Z" fill="url(#headshade)" filter="url(#soft)"/>
<ellipse cx="6.7" cy="39.8" rx="6.2" ry="5.4" fill="url(#lumB2)" opacity="1.0"/>
<ellipse cx="7.5" cy="45.0" rx="3" ry="1.6" fill="url(#lumB)" opacity="0.8"/>
</svg>
<svg x="186.8" y="164.0" width="31.4" height="93.6" viewBox="0 0 31.4 93.6" overflow="hidden">
<rect width="31.4" height="93.6" fill="#2b2b2b"/>
<rect width="31.4" height="93.6" fill="url(#streak)" opacity="0.07"/>
<path d="M16.2,50 C16.8,60 17.4,66 17.6,72 C18.2,80 19.2,88 20.2,93" stroke="#b4b4b4" stroke-width="1.9" fill="none" stroke-linecap="round"/>
<path d="M21,49 L27,53" stroke="#b4b4b4" stroke-width="1.6" fill="none" stroke-linecap="round"/>
<path d="M9,49 L6,56" stroke="#b4b4b4" stroke-width="1.6" fill="none" stroke-linecap="round"/>
<ellipse cx="2.5" cy="15" rx="1.60" ry="1.60" fill="#a8a8a8" filter="url(#soft)"/>
<path d="M14.60,-0.50 C15.60,-0.50 16.27,2.58 17.00,4.00 C17.73,5.42 18.00,6.50 19.00,8.00 C20.00,9.50 22.17,11.00 23.00,13.00 C23.83,15.00 23.67,17.17 24.00,20.00 C24.33,22.83 24.67,26.67 25.00,30.00 C25.33,33.33 26.00,37.00 26.00,40.00 C26.00,43.00 25.67,46.17 25.00,48.00 C24.33,49.83 23.67,50.37 22.00,51.00 C20.33,51.63 17.33,51.80 15.00,51.80 C12.67,51.80 9.67,51.63 8.00,51.00 C6.33,50.37 6.00,49.83 5.00,48.00 C4.00,46.17 2.33,43.00 2.00,40.00 C1.67,37.00 2.83,33.33 3.00,30.00 C3.17,26.67 3.08,22.83 3.00,20.00 C2.92,17.17 1.83,15.00 2.50,13.00 C3.17,11.00 5.58,9.50 7.00,8.00 C8.42,6.50 9.73,5.42 11.00,4.00 C12.27,2.58 13.60,-0.50 14.60,-0.50 Z" fill="url(#mbody)" filter="url(#fur)"/>
<path d="M14.60,-0.50 C15.60,-0.50 16.27,2.58 17.00,4.00 C17.73,5.42 18.00,6.50 19.00,8.00 C20.00,9.50 22.17,11.00 23.00,13.00 C23.83,15.00 23.67,17.17 24.00,20.00 C24.33,22.83 24.67,26.67 25.00,30.00 C25.33,33.33 26.00,37.00 26.00,40.00 C26.00,43.00 25.67,46.17 25.00,48.00 C24.33,49.83 23.67,50.37 22.00,51.00 C20.33,51.63 17.33,51.80 15.00,51.80 C12.67,51.80 9.67,51.63 8.00,51.00 C6.33,50.37 6.00,49.83 5.00,48.00 C4.00,46.17 2.33,43.00 2.00,40.00 C1.67,37.00 2.83,33.33 3.00,30.00 C3.17,26.67 3.08,22.83 3.00,20.00 C2.92,17.17 1.83,15.00 2.50,13.00 C3.17,11.00 5.58,9.50 7.00,8.00 C8.42,6.50 9.73,5.42 11.00,4.00 C12.27,2.58 13.60,-0.50 14.60,-0.50 Z" fill="url(#headshade)" filter="url(#soft)"/>
<ellipse cx="3.5" cy="45.0" rx="2.5" ry="3.2" fill="url(#lumB)" opacity="0.9"/>
</svg>
<svg x="84.0" y="259.6" width="32.0" height="93.4" viewBox="0 0 32.0 93.4" overflow="hidden">
<rect width="32.0" height="93.4" fill="#2b2b2b"/>
<rect width="32.0" height="93.4" fill="url(#streak)" opacity="0.07"/>
<rect width="32.0" height="93.39999999999998" filter="url(#noiseB)"/>
<rect y="48" width="32.0" height="45.39999999999998" fill="url(#darkfade)"/>
<path d="M14.5,0 L14.5,10" stroke="#e8e8f4" stroke-width="4.5" filter="url(#blur1)" opacity="0.95"/>
<path d="M13,50 C14,62 15.5,78 17,93" stroke="#a0a0ff" stroke-width="1.6" stroke-dasharray="1.5 1.5" fill="none" opacity="0.8"/>
<path d="M13.50,8.00 C15.42,8.00 18.08,10.33 19.50,12.00 C20.92,13.67 21.17,16.00 22.00,18.00 C22.83,20.00 24.00,21.67 24.50,24.00 C25.00,26.33 24.92,29.33 25.00,32.00 C25.08,34.67 25.50,37.33 25.00,40.00 C24.50,42.67 23.17,45.83 22.00,48.00 C20.83,50.17 20.00,52.03 18.00,53.00 C16.00,53.97 12.67,53.80 10.00,53.80 C7.33,53.80 3.50,53.97 2.00,53.00 C0.50,52.03 1.33,50.17 1.00,48.00 C0.67,45.83 0.08,42.67 0.00,40.00 C-0.08,37.33 0.08,34.67 0.50,32.00 C0.92,29.33 1.67,26.33 2.50,24.00 C3.33,21.67 4.58,20.00 5.50,18.00 C6.42,16.00 6.67,13.67 8.00,12.00 C9.33,10.33 11.58,8.00 13.50,8.00 Z" fill="#00c0ff" filter="url(#blur1)"/>
<path d="M13.50,11.00 C14.83,11.00 16.50,12.83 17.50,14.00 C18.50,15.17 18.83,16.33 19.50,18.00 C20.17,19.67 21.08,21.67 21.50,24.00 C21.92,26.33 21.92,29.33 22.00,32.00 C22.08,34.67 22.42,37.67 22.00,40.00 C21.58,42.33 20.50,44.33 19.50,46.00 C18.50,47.67 17.67,49.20 16.00,50.00 C14.33,50.80 11.67,50.80 9.50,50.80 C7.33,50.80 4.17,50.80 3.00,50.00 C1.83,49.20 2.67,47.67 2.50,46.00 C2.33,44.33 2.08,42.33 2.00,40.00 C1.92,37.67 1.58,34.67 2.00,32.00 C2.42,29.33 3.58,26.33 4.50,24.00 C5.42,21.67 6.67,19.67 7.50,18.00 C8.33,16.33 8.50,15.17 9.50,14.00 C10.50,12.83 12.17,11.00 13.50,11.00 Z" fill="#10f040" filter="url(#blur1)"/>
<ellipse cx="8.7" cy="37.6" rx="6.8" ry="6.2" fill="url(#lumRcore)" opacity="1.0"/>
</svg>
<svg x="118.5" y="259.6" width="31.7" height="93.4" viewBox="0 0 31.7 93.4" overflow="hidden">
<rect width="31.7" height="93.4" fill="#2b2b2b"/>
<rect width="31.7" height="93.4" fill="url(#streak)" opacity="0.07"/>
<path d="M13.9,50 C15,62 16.5,78 17.9,93" stroke="#b4b4b4" stroke-width="1.9" fill="none" stroke-linecap="round"/>
<path d="M21,47 L27,50" stroke="#b4b4b4" stroke-width="1.6" fill="none" stroke-linecap="round"/>
<path d="M6,47 L2,52" stroke="#b4b4b4" stroke-width="1.6" fill="none" stroke-linecap="round"/>
<path d="M14.50,-0.50 C15.50,-0.50 16.08,3.25 17.00,5.00 C17.92,6.75 19.00,7.50 20.00,10.00 C21.00,12.50 22.33,16.67 23.00,20.00 C23.67,23.33 23.67,26.67 24.00,30.00 C24.33,33.33 25.33,37.00 25.00,40.00 C24.67,43.00 22.50,46.33 22.00,48.00 C21.50,49.67 23.33,49.53 22.00,50.00 C20.67,50.47 16.67,50.80 14.00,50.80 C11.33,50.80 7.67,50.47 6.00,50.00 C4.33,49.53 4.83,49.67 4.00,48.00 C3.17,46.33 1.33,43.00 1.00,40.00 C0.67,37.00 1.50,33.33 2.00,30.00 C2.50,26.67 3.17,23.33 4.00,20.00 C4.83,16.67 5.83,12.50 7.00,10.00 C8.17,7.50 9.75,6.75 11.00,5.00 C12.25,3.25 13.50,-0.50 14.50,-0.50 Z" fill="url(#mbody)" filter="url(#fur)"/>
<path d="M14.50,-0.50 C15.50,-0.50 16.08,3.25 17.00,5.00 C17.92,6.75 19.00,7.50 20.00,10.00 C21.00,12.50 22.33,16.67 23.00,20.00 C23.67,23.33 23.67,26.67 24.00,30.00 C24.33,33.33 25.33,37.00 25.00,40.00 C24.67,43.00 22.50,46.33 22.00,48.00 C21.50,49.67 23.33,49.53 22.00,50.00 C20.67,50.47 16.67,50.80 14.00,50.80 C11.33,50.80 7.67,50.47 6.00,50.00 C4.33,49.53 4.83,49.67 4.00,48.00 C3.17,46.33 1.33,43.00 1.00,40.00 C0.67,37.00 1.50,33.33 2.00,30.00 C2.50,26.67 3.17,23.33 4.00,20.00 C4.83,16.67 5.83,12.50 7.00,10.00 C8.17,7.50 9.75,6.75 11.00,5.00 C12.25,3.25 13.50,-0.50 14.50,-0.50 Z" fill="url(#headshade)" filter="url(#soft)"/>
<path d="M14.50,0.00 C15.92,0.00 17.67,4.00 18.50,6.00 C19.33,8.00 19.58,9.67 19.50,12.00 C19.42,14.33 18.33,17.33 18.00,20.00 C17.67,22.67 17.67,26.50 17.50,28.00 C17.33,29.50 18.33,28.70 17.00,29.00 C15.67,29.30 12.00,29.80 9.50,29.80 C7.00,29.80 3.25,29.30 2.00,29.00 C0.75,28.70 1.75,29.50 2.00,28.00 C2.25,26.50 2.83,22.67 3.50,20.00 C4.17,17.33 4.92,14.33 6.00,12.00 C7.08,9.67 8.58,8.00 10.00,6.00 C11.42,4.00 13.08,0.00 14.50,0.00 Z" fill="#2018e8" filter="url(#blur1)" opacity="0.95"/>
<ellipse cx="20.0" cy="24.0" rx="3.5" ry="8" fill="url(#lumW)" opacity="0.6"/>
<ellipse cx="15.0" cy="7.5" rx="2.6" ry="2.6" fill="url(#lumC)" opacity="1.0"/>
<ellipse cx="12.0" cy="15.0" rx="2.6" ry="2.6" fill="url(#lumC)" opacity="1.0"/>
<ellipse cx="9.5" cy="22.0" rx="2.6" ry="2.3" fill="url(#lumC)" opacity="1.0"/>
<path d="M10.00,26.00 C13.50,26.00 19.50,29.67 22.00,32.00 C24.50,34.33 24.67,37.67 25.00,40.00 C25.33,42.33 24.83,44.08 24.00,46.00 C23.17,47.92 22.08,50.45 20.00,51.50 C17.92,52.55 14.33,52.30 11.50,52.30 C8.67,52.30 4.75,52.55 3.00,51.50 C1.25,50.45 1.42,47.92 1.00,46.00 C0.58,44.08 0.50,42.33 0.50,40.00 C0.50,37.67 -0.58,34.33 1.00,32.00 C2.58,29.67 6.50,26.00 10.00,26.00 Z" fill="#1030f0" filter="url(#blur1)"/>
<path d="M10.00,28.50 C12.67,28.50 16.83,31.08 18.50,33.00 C20.17,34.92 20.08,38.00 20.00,40.00 C19.92,42.00 19.00,43.42 18.00,45.00 C17.00,46.58 15.50,48.62 14.00,49.50 C12.50,50.38 10.67,50.30 9.00,50.30 C7.33,50.30 5.08,50.38 4.00,49.50 C2.92,48.62 2.92,46.58 2.50,45.00 C2.08,43.42 1.50,42.00 1.50,40.00 C1.50,38.00 1.08,34.92 2.50,33.00 C3.92,31.08 7.33,28.50 10.00,28.50 Z" fill="#18f050" filter="url(#blur1)"/>
<ellipse cx="5.8" cy="41.0" rx="5.2" ry="4.4" fill="url(#lumRcore)" opacity="1.0"/>
<ellipse cx="23.5" cy="44.0" rx="3.2" ry="2.8" fill="url(#lumGcore)" opacity="1.0"/>
</svg>
<svg x="152.9" y="259.6" width="31.3" height="93.4" viewBox="0 0 31.3 93.4" overflow="hidden">
<rect width="31.3" height="93.4" fill="#2b2b2b"/>
<rect width="31.3" height="93.4" fill="url(#streak)" opacity="0.07"/>
<path d="M14.9,49 C14.5,62 11,78 8.3,93" stroke="#b4b4b4" stroke-width="1.9" fill="none" stroke-linecap="round"/>
<path d="M22,46 L30,49" stroke="#b4b4b4" stroke-width="1.6" fill="none" stroke-linecap="round"/>
<path d="M6,46 L0.5,51" stroke="#b4b4b4" stroke-width="1.6" fill="none" stroke-linecap="round"/>
<ellipse cx="2.5" cy="13" rx="1.60" ry="1.60" fill="#a8a8a8" filter="url(#soft)"/>
<path d="M10.90,-0.50 C11.57,-0.50 11.98,2.58 13.00,4.00 C14.02,5.42 15.83,6.17 17.00,8.00 C18.17,9.83 19.00,12.17 20.00,15.00 C21.00,17.83 22.17,21.67 23.00,25.00 C23.83,28.33 24.42,32.00 25.00,35.00 C25.58,38.00 26.67,40.75 26.50,43.00 C26.33,45.25 25.92,47.45 24.00,48.50 C22.08,49.55 18.00,49.30 15.00,49.30 C12.00,49.30 8.00,49.55 6.00,48.50 C4.00,47.45 3.67,45.25 3.00,43.00 C2.33,40.75 2.17,38.00 2.00,35.00 C1.83,32.00 2.00,28.33 2.00,25.00 C2.00,21.67 1.67,17.83 2.00,15.00 C2.33,12.17 2.83,9.83 4.00,8.00 C5.17,6.17 7.85,5.42 9.00,4.00 C10.15,2.58 10.23,-0.50 10.90,-0.50 Z" fill="url(#mbody)" filter="url(#fur)"/>
<path d="M10.90,-0.50 C11.57,-0.50 11.98,2.58 13.00,4.00 C14.02,5.42 15.83,6.17 17.00,8.00 C18.17,9.83 19.00,12.17 20.00,15.00 C21.00,17.83 22.17,21.67 23.00,25.00 C23.83,28.33 24.42,32.00 25.00,35.00 C25.58,38.00 26.67,40.75 26.50,43.00 C26.33,45.25 25.92,47.45 24.00,48.50 C22.08,49.55 18.00,49.30 15.00,49.30 C12.00,49.30 8.00,49.55 6.00,48.50 C4.00,47.45 3.67,45.25 3.00,43.00 C2.33,40.75 2.17,38.00 2.00,35.00 C1.83,32.00 2.00,28.33 2.00,25.00 C2.00,21.67 1.67,17.83 2.00,15.00 C2.33,12.17 2.83,9.83 4.00,8.00 C5.17,6.17 7.85,5.42 9.00,4.00 C10.15,2.58 10.23,-0.50 10.90,-0.50 Z" fill="url(#headshade)" filter="url(#soft)"/>
</svg>
<svg x="186.8" y="259.6" width="31.4" height="93.4" viewBox="0 0 31.4 93.4" overflow="hidden">
<rect width="31.4" height="93.4" fill="#2b2b2b"/>
<rect width="31.4" height="93.4" fill="url(#streak)" opacity="0.07"/>
<path d="M17.6,50 C17,62 15,78 13.7,93" stroke="#b4b4b4" stroke-width="1.9" fill="none" stroke-linecap="round"/>
<path d="M24,48 L30.5,50.5" stroke="#b4b4b4" stroke-width="1.6" fill="none" stroke-linecap="round"/>
<path d="M7,48 L1,52.5" stroke="#b4b4b4" stroke-width="1.6" fill="none" stroke-linecap="round"/>
<ellipse cx="3.5" cy="15" rx="1.60" ry="1.60" fill="#a8a8a8" filter="url(#soft)"/>
<ellipse cx="27" cy="17" rx="1.60" ry="1.60" fill="#a8a8a8" filter="url(#soft)"/>
<path d="M16.40,-0.50 C17.73,-0.50 18.73,3.92 20.00,6.00 C21.27,8.08 23.00,9.67 24.00,12.00 C25.00,14.33 25.42,17.00 26.00,20.00 C26.58,23.00 27.17,26.67 27.50,30.00 C27.83,33.33 28.08,37.00 28.00,40.00 C27.92,43.00 27.50,46.33 27.00,48.00 C26.50,49.67 26.75,49.53 25.00,50.00 C23.25,50.47 19.33,50.80 16.50,50.80 C13.67,50.80 9.92,50.47 8.00,50.00 C6.08,49.53 5.83,49.67 5.00,48.00 C4.17,46.33 3.25,43.00 3.00,40.00 C2.75,37.00 3.33,33.33 3.50,30.00 C3.67,26.67 3.58,23.00 4.00,20.00 C4.42,17.00 4.67,14.33 6.00,12.00 C7.33,9.67 10.27,8.08 12.00,6.00 C13.73,3.92 15.07,-0.50 16.40,-0.50 Z" fill="url(#mbody)" filter="url(#fur)"/>
<path d="M16.40,-0.50 C17.73,-0.50 18.73,3.92 20.00,6.00 C21.27,8.08 23.00,9.67 24.00,12.00 C25.00,14.33 25.42,17.00 26.00,20.00 C26.58,23.00 27.17,26.67 27.50,30.00 C27.83,33.33 28.08,37.00 28.00,40.00 C27.92,43.00 27.50,46.33 27.00,48.00 C26.50,49.67 26.75,49.53 25.00,50.00 C23.25,50.47 19.33,50.80 16.50,50.80 C13.67,50.80 9.92,50.47 8.00,50.00 C6.08,49.53 5.83,49.67 5.00,48.00 C4.17,46.33 3.25,43.00 3.00,40.00 C2.75,37.00 3.33,33.33 3.50,30.00 C3.67,26.67 3.58,23.00 4.00,20.00 C4.42,17.00 4.67,14.33 6.00,12.00 C7.33,9.67 10.27,8.08 12.00,6.00 C13.73,3.92 15.07,-0.50 16.40,-0.50 Z" fill="url(#headshade)" filter="url(#soft)"/>
</svg>
<svg x="84.0" y="355.0" width="32.0" height="93.6" viewBox="0 0 32.0 93.6" overflow="hidden">
<rect width="32.0" height="93.6" fill="#2b2b2b"/>
<rect width="32.0" height="93.6" fill="url(#streak)" opacity="0.07"/>
<rect width="32.0" height="93.60000000000002" filter="url(#noiseB2)"/>
<path d="M17,50 L18.3,93" stroke="#30d8ff" stroke-width="2.6" filter="url(#blur1)" opacity="0.9"/>
<path d="M13.00,2.00 C15.50,2.00 19.33,5.00 21.00,8.00 C22.67,11.00 22.33,16.33 23.00,20.00 C23.67,23.67 24.67,26.67 25.00,30.00 C25.33,33.33 25.17,36.67 25.00,40.00 C24.83,43.33 24.50,47.00 24.00,50.00 C23.50,53.00 22.83,55.83 22.00,58.00 C21.17,60.17 20.83,62.03 19.00,63.00 C17.17,63.97 13.67,63.80 11.00,63.80 C8.33,63.80 4.67,63.97 3.00,63.00 C1.33,62.03 1.67,60.17 1.00,58.00 C0.33,55.83 -0.67,53.00 -1.00,50.00 C-1.33,47.00 -1.00,43.33 -1.00,40.00 C-1.00,36.67 -1.33,33.33 -1.00,30.00 C-0.67,26.67 -0.17,23.67 1.00,20.00 C2.17,16.33 4.00,11.00 6.00,8.00 C8.00,5.00 10.50,2.00 13.00,2.00 Z" fill="#00d8ff" filter="url(#blur2)"/>
<path d="M13.00,6.00 C15.00,6.00 17.83,7.67 19.00,10.00 C20.17,12.33 19.50,16.67 20.00,20.00 C20.50,23.33 21.58,26.67 22.00,30.00 C22.42,33.33 22.58,37.00 22.50,40.00 C22.42,43.00 22.08,45.50 21.50,48.00 C20.92,50.50 20.83,53.70 19.00,55.00 C17.17,56.30 13.33,55.80 10.50,55.80 C7.67,55.80 3.75,56.30 2.00,55.00 C0.25,53.70 0.42,50.50 0.00,48.00 C-0.42,45.50 -0.50,43.00 -0.50,40.00 C-0.50,37.00 -0.42,33.33 0.00,30.00 C0.42,26.67 0.83,23.33 2.00,20.00 C3.17,16.67 5.17,12.33 7.00,10.00 C8.83,7.67 11.00,6.00 13.00,6.00 Z" fill="#10f048" filter="url(#blur1)"/>
<ellipse cx="11.5" cy="22.0" rx="3.5" ry="3.5" fill="url(#lumY)" opacity="1.0"/>
<ellipse cx="11.8" cy="39.2" rx="9.4" ry="11.2" fill="url(#lumRcore)" opacity="1.0" transform="rotate(-8 11.8 39.2)"/>
</svg>
<svg x="118.5" y="355.0" width="31.7" height="93.6" viewBox="0 0 31.7 93.6" overflow="hidden">
<rect width="31.7" height="93.6" fill="#2b2b2b"/>
<rect width="31.7" height="93.6" fill="url(#streak)" opacity="0.07"/>
<path d="M13.9,50 C14.2,62 14.8,78 15.2,93" stroke="#2a50ff" stroke-width="2" fill="none"/>
<path d="M14.1,60 C14.4,70 14.8,80 15.2,93" stroke="#a0b8e0" stroke-width="1" fill="none"/>
<path d="M14.50,-0.50 C16.50,-0.50 18.58,2.92 20.00,5.00 C21.42,7.08 22.33,9.50 23.00,12.00 C23.67,14.50 23.33,17.00 24.00,20.00 C24.67,23.00 26.17,26.67 27.00,30.00 C27.83,33.33 28.83,37.00 29.00,40.00 C29.17,43.00 28.33,45.83 28.00,48.00 C27.67,50.17 29.25,52.03 27.00,53.00 C24.75,53.97 18.67,53.80 14.50,53.80 C10.33,53.80 4.25,53.97 2.00,53.00 C-0.25,52.03 1.33,50.17 1.00,48.00 C0.67,45.83 0.00,43.00 0.00,40.00 C0.00,37.00 0.33,33.33 1.00,30.00 C1.67,26.67 3.33,23.00 4.00,20.00 C4.67,17.00 4.33,14.50 5.00,12.00 C5.67,9.50 6.42,7.08 8.00,5.00 C9.58,2.92 12.50,-0.50 14.50,-0.50 Z" fill="#1a20e8" filter="url(#blur1)"/>
<path d="M14.50,1.00 C16.33,1.00 18.92,3.33 20.00,5.00 C21.08,6.67 21.00,9.00 21.00,11.00 C21.00,13.00 20.50,15.33 20.00,17.00 C19.50,18.67 19.00,20.20 18.00,21.00 C17.00,21.80 15.33,21.80 14.00,21.80 C12.67,21.80 10.92,21.80 10.00,21.00 C9.08,20.20 9.00,18.67 8.50,17.00 C8.00,15.33 6.92,13.00 7.00,11.00 C7.08,9.00 7.75,6.67 9.00,5.00 C10.25,3.33 12.67,1.00 14.50,1.00 Z" fill="#00d8f0" filter="url(#blur1)"/>
<path d="M14.50,3.00 C16.00,3.00 18.17,4.50 19.00,6.00 C19.83,7.50 19.58,10.33 19.50,12.00 C19.42,13.67 18.92,14.83 18.50,16.00 C18.08,17.17 17.75,18.37 17.00,19.00 C16.25,19.63 15.00,19.80 14.00,19.80 C13.00,19.80 11.67,19.63 11.00,19.00 C10.33,18.37 10.33,17.17 10.00,16.00 C9.67,14.83 9.00,13.67 9.00,12.00 C9.00,10.33 9.08,7.50 10.00,6.00 C10.92,4.50 13.00,3.00 14.50,3.00 Z" fill="#30f040" filter="url(#blur1)"/>
<ellipse cx="14.0" cy="9.0" rx="2.8" ry="2.4" fill="url(#lumY)" opacity="1.0"/>
<ellipse cx="14.0" cy="15.5" rx="2.8" ry="2.4" fill="url(#lumY)" opacity="1.0"/>
<ellipse cx="19.5" cy="26.0" rx="2.4" ry="1.6" fill="url(#lumW)" opacity="1.0"/>
<ellipse cx="15.0" cy="22.5" rx="2" ry="1.2" fill="url(#lumW)" opacity="0.6"/>
<path d="M14.00,29.00 C18.00,29.00 23.67,31.17 26.00,33.00 C28.33,34.83 28.00,37.67 28.00,40.00 C28.00,42.33 26.67,45.17 26.00,47.00 C25.33,48.83 26.00,50.20 24.00,51.00 C22.00,51.80 17.33,51.80 14.00,51.80 C10.67,51.80 6.00,51.80 4.00,51.00 C2.00,50.20 2.50,48.83 2.00,47.00 C1.50,45.17 1.00,42.33 1.00,40.00 C1.00,37.67 -0.17,34.83 2.00,33.00 C4.17,31.17 10.00,29.00 14.00,29.00 Z" fill="#18ec40" filter="url(#blur1)"/>
<ellipse cx="7.5" cy="41.5" rx="7.5" ry="5.2" fill="url(#lumRcore)" opacity="1.0" transform="rotate(8 7.5 41.5)"/>
<ellipse cx="21.5" cy="37.0" rx="4.2" ry="4.2" fill="url(#lumOr)" opacity="1.0"/>
<ellipse cx="2.0" cy="52.0" rx="2.5" ry="1.6" fill="url(#lumC)" opacity="1.0"/>
<ellipse cx="27.0" cy="51.0" rx="2.5" ry="1.6" fill="url(#lumC)" opacity="1.0"/>
</svg>
<svg x="152.9" y="355.0" width="31.3" height="93.6" viewBox="0 0 31.3 93.6" overflow="hidden">
<rect width="31.3" height="93.6" fill="#2b2b2b"/>
<rect width="31.3" height="93.6" fill="url(#streak)" opacity="0.07"/>
<path d="M17.5,49 C15,62 8,78 3.1,93" stroke="#b4b4b4" stroke-width="1.9" fill="none" stroke-linecap="round"/>
<path d="M9,46 L1,48.5" stroke="#b4b4b4" stroke-width="1.6" fill="none" stroke-linecap="round"/>
<path d="M24,47 L27,53" stroke="#b4b4b4" stroke-width="1.6" fill="none" stroke-linecap="round"/>
<ellipse cx="11" cy="14" rx="1.60" ry="1.60" fill="#a8a8a8" filter="url(#soft)"/>
<path d="M19.40,-0.50 C20.23,-0.50 21.07,2.58 22.00,4.00 C22.93,5.42 24.17,6.33 25.00,8.00 C25.83,9.67 26.50,11.67 27.00,14.00 C27.50,16.33 27.75,19.33 28.00,22.00 C28.25,24.67 28.42,27.33 28.50,30.00 C28.58,32.67 28.58,35.50 28.50,38.00 C28.42,40.50 28.42,43.25 28.00,45.00 C27.58,46.75 27.75,47.78 26.00,48.50 C24.25,49.22 20.33,49.30 17.50,49.30 C14.67,49.30 10.92,49.22 9.00,48.50 C7.08,47.78 6.58,46.75 6.00,45.00 C5.42,43.25 5.33,40.50 5.50,38.00 C5.67,35.50 6.42,32.67 7.00,30.00 C7.58,27.33 8.33,24.67 9.00,22.00 C9.67,19.33 10.00,16.33 11.00,14.00 C12.00,11.67 14.00,9.67 15.00,8.00 C16.00,6.33 16.27,5.42 17.00,4.00 C17.73,2.58 18.57,-0.50 19.40,-0.50 Z" fill="url(#mbody)" filter="url(#fur)"/>
<path d="M19.40,-0.50 C20.23,-0.50 21.07,2.58 22.00,4.00 C22.93,5.42 24.17,6.33 25.00,8.00 C25.83,9.67 26.50,11.67 27.00,14.00 C27.50,16.33 27.75,19.33 28.00,22.00 C28.25,24.67 28.42,27.33 28.50,30.00 C28.58,32.67 28.58,35.50 28.50,38.00 C28.42,40.50 28.42,43.25 28.00,45.00 C27.58,46.75 27.75,47.78 26.00,48.50 C24.25,49.22 20.33,49.30 17.50,49.30 C14.67,49.30 10.92,49.22 9.00,48.50 C7.08,47.78 6.58,46.75 6.00,45.00 C5.42,43.25 5.33,40.50 5.50,38.00 C5.67,35.50 6.42,32.67 7.00,30.00 C7.58,27.33 8.33,24.67 9.00,22.00 C9.67,19.33 10.00,16.33 11.00,14.00 C12.00,11.67 14.00,9.67 15.00,8.00 C16.00,6.33 16.27,5.42 17.00,4.00 C17.73,2.58 18.57,-0.50 19.40,-0.50 Z" fill="url(#headshade)" filter="url(#soft)"/>
<ellipse cx="9.0" cy="38.5" rx="4" ry="4" fill="url(#lumB2)" opacity="1.0"/>
<ellipse cx="10.0" cy="42.0" rx="2" ry="1.4" fill="url(#lumB)" opacity="0.8"/>
</svg>
<svg x="186.8" y="355.0" width="31.4" height="93.6" viewBox="0 0 31.4 93.6" overflow="hidden">
<rect width="31.4" height="93.6" fill="#2b2b2b"/>
<rect width="31.4" height="93.6" fill="url(#streak)" opacity="0.07"/>
<path d="M15,50 C14,62 11.5,78 9.8,93" stroke="#b4b4b4" stroke-width="1.9" fill="none" stroke-linecap="round"/>
<path d="M23,49 L30,53" stroke="#b4b4b4" stroke-width="1.6" fill="none" stroke-linecap="round"/>
<path d="M7,49 L1,53" stroke="#b4b4b4" stroke-width="1.6" fill="none" stroke-linecap="round"/>
<ellipse cx="26.5" cy="16.5" rx="1.60" ry="1.60" fill="#a8a8a8" filter="url(#soft)"/>
<path d="M15.80,-0.50 C17.30,-0.50 18.47,3.92 20.00,6.00 C21.53,8.08 24.00,9.67 25.00,12.00 C26.00,14.33 25.83,17.00 26.00,20.00 C26.17,23.00 25.83,26.67 26.00,30.00 C26.17,33.33 26.83,37.00 27.00,40.00 C27.17,43.00 27.33,46.17 27.00,48.00 C26.67,49.83 26.83,50.37 25.00,51.00 C23.17,51.63 19.00,51.80 16.00,51.80 C13.00,51.80 9.17,51.63 7.00,51.00 C4.83,50.37 3.92,49.83 3.00,48.00 C2.08,46.17 1.67,43.00 1.50,40.00 C1.33,37.00 1.67,33.33 2.00,30.00 C2.33,26.67 3.00,23.00 3.50,20.00 C4.00,17.00 3.75,14.33 5.00,12.00 C6.25,9.67 9.20,8.08 11.00,6.00 C12.80,3.92 14.30,-0.50 15.80,-0.50 Z" fill="url(#mbody)" filter="url(#fur)"/>
<path d="M15.80,-0.50 C17.30,-0.50 18.47,3.92 20.00,6.00 C21.53,8.08 24.00,9.67 25.00,12.00 C26.00,14.33 25.83,17.00 26.00,20.00 C26.17,23.00 25.83,26.67 26.00,30.00 C26.17,33.33 26.83,37.00 27.00,40.00 C27.17,43.00 27.33,46.17 27.00,48.00 C26.67,49.83 26.83,50.37 25.00,51.00 C23.17,51.63 19.00,51.80 16.00,51.80 C13.00,51.80 9.17,51.63 7.00,51.00 C4.83,50.37 3.92,49.83 3.00,48.00 C2.08,46.17 1.67,43.00 1.50,40.00 C1.33,37.00 1.67,33.33 2.00,30.00 C2.33,26.67 3.00,23.00 3.50,20.00 C4.00,17.00 3.75,14.33 5.00,12.00 C6.25,9.67 9.20,8.08 11.00,6.00 C12.80,3.92 14.30,-0.50 15.80,-0.50 Z" fill="url(#headshade)" filter="url(#soft)"/>
</svg>
<rect x="92.2" y="452.8" width="116.8" height="6.4" fill="url(#cbar)" stroke="#111" stroke-width="1"/>
<path d="M92.20,459.2 v2.6 M100.99,459.2 v1.6 M106.13,459.2 v1.6 M109.78,459.2 v1.6 M112.61,459.2 v1.6 M114.92,459.2 v1.6 M116.88,459.2 v1.6 M118.57,459.2 v1.6 M120.06,459.2 v1.6 M121.40,459.2 v2.6 M130.19,459.2 v1.6 M135.33,459.2 v1.6 M138.98,459.2 v1.6 M141.81,459.2 v1.6 M144.12,459.2 v1.6 M146.08,459.2 v1.6 M147.77,459.2 v1.6 M149.26,459.2 v1.6 M150.60,459.2 v2.6 M159.39,459.2 v1.6 M164.53,459.2 v1.6 M168.18,459.2 v1.6 M171.01,459.2 v1.6 M173.32,459.2 v1.6 M175.28,459.2 v1.6 M176.97,459.2 v1.6 M178.46,459.2 v1.6 M179.80,459.2 v2.6 M188.59,459.2 v1.6 M193.73,459.2 v1.6 M197.38,459.2 v1.6 M200.21,459.2 v1.6 M202.52,459.2 v1.6 M204.48,459.2 v1.6 M206.17,459.2 v1.6 M207.66,459.2 v1.6 M209.00,459.2 v2.6" stroke="#111" stroke-width="0.7"/>
<text x="87.0" y="472.8" font-size="8.2" fill="#222">10<tspan dy="-3.4" font-size="5.6">5</tspan></text>
<text x="116.2" y="472.8" font-size="8.2" fill="#222">10<tspan dy="-3.4" font-size="5.6">6</tspan></text>
<text x="145.4" y="472.8" font-size="8.2" fill="#222">10<tspan dy="-3.4" font-size="5.6">7</tspan></text>
<text x="174.6" y="472.8" font-size="8.2" fill="#222">10<tspan dy="-3.4" font-size="5.6">8</tspan></text>
<text x="203.8" y="472.8" font-size="8.2" fill="#222">10<tspan dy="-3.4" font-size="5.6">9</tspan></text>
<text x="116.6" y="489.9" font-size="9" textLength="54.6" lengthAdjust="spacingAndGlyphs" fill="#111" stroke="#111" stroke-width="0.3">Radiance (p/s/cm</text>
<text x="170.7" y="486.2" font-size="6" fill="#111">2</text>
<text x="174.3" y="489.9" font-size="9" textLength="11.6" lengthAdjust="spacingAndGlyphs" fill="#111" stroke="#111" stroke-width="0.3">/sr)</text>
<text x="240.3" y="16.0" font-size="11.9" font-weight="bold" fill="#000">B</text>
<rect x="289.4" y="30.4" width="215.20000000000005" height="124.19999999999999" fill="none" stroke="#111" stroke-width="1.5"/>
<text x="284.2" y="33.3" font-size="8.3" text-anchor="end" fill="#222">100000</text>
<text x="284.2" y="54.0" font-size="8.3" text-anchor="end" fill="#222">10000</text>
<text x="284.2" y="74.7" font-size="8.3" text-anchor="end" fill="#222">1000</text>
<text x="284.2" y="95.4" font-size="8.3" text-anchor="end" fill="#222">100</text>
<text x="284.2" y="116.1" font-size="8.3" text-anchor="end" fill="#222">10</text>
<text x="284.2" y="136.8" font-size="8.3" text-anchor="end" fill="#222">1</text>
<text x="284.2" y="157.5" font-size="8.3" text-anchor="end" fill="#222">0.1</text>
<text x="289.4" y="165.3" font-size="8.3" text-anchor="middle" fill="#222">0</text>
<text x="320.1" y="165.3" font-size="8.3" text-anchor="middle" fill="#222">2</text>
<text x="350.9" y="165.3" font-size="8.3" text-anchor="middle" fill="#222">4</text>
<text x="381.6" y="165.3" font-size="8.3" text-anchor="middle" fill="#222">6</text>
<text x="412.4" y="165.3" font-size="8.3" text-anchor="middle" fill="#222">8</text>
<text x="443.1" y="165.3" font-size="8.3" text-anchor="middle" fill="#222">10</text>
<text x="473.8" y="165.3" font-size="8.3" text-anchor="middle" fill="#222">12</text>
<text x="504.6" y="165.3" font-size="8.3" text-anchor="middle" fill="#222">14</text>
<text x="355.9" y="178.7" font-size="9.4" textLength="83" lengthAdjust="spacingAndGlyphs" fill="#111" stroke="#111" stroke-width="0.3">Time (days from first dose)</text>
<g transform="translate(249.4,121.5) rotate(-90) scale(0.76,1)"><text x="0" y="0" font-size="9.8" fill="#111" stroke="#111" stroke-width="0.3">Total flux (x10<tspan dy="-3.6" font-size="6.4">5</tspan><tspan dy="3.6"> p/s)</tspan></text></g>
<line x1="289.4" y1="52.9" x2="289.4" y2="97.1" stroke="#111" stroke-width="1.1"/>
<line x1="286.8" y1="52.9" x2="292.0" y2="52.9" stroke="#111" stroke-width="1.1"/>
<line x1="286.8" y1="84.9" x2="292.0" y2="84.9" stroke="#111" stroke-width="1.1"/>
<line x1="286.8" y1="97.1" x2="292.0" y2="97.1" stroke="#111" stroke-width="1.1"/>
<line x1="335.5" y1="57.2" x2="335.5" y2="104.6" stroke="#111" stroke-width="1.1"/>
<line x1="332.9" y1="57.2" x2="338.1" y2="57.2" stroke="#111" stroke-width="1.1"/>
<line x1="332.9" y1="59.0" x2="338.1" y2="59.0" stroke="#111" stroke-width="1.1"/>
<line x1="332.9" y1="77.6" x2="338.1" y2="77.6" stroke="#111" stroke-width="1.1"/>
<line x1="332.9" y1="104.6" x2="338.1" y2="104.6" stroke="#111" stroke-width="1.1"/>
<line x1="397.0" y1="45.9" x2="397.0" y2="52.3" stroke="#111" stroke-width="1.1"/>
<line x1="397.0" y1="91.2" x2="397.0" y2="100.8" stroke="#111" stroke-width="1.1"/>
<line x1="394.4" y1="45.9" x2="399.6" y2="45.9" stroke="#111" stroke-width="1.1"/>
<line x1="394.4" y1="91.2" x2="399.6" y2="91.2" stroke="#111" stroke-width="1.1"/>
<line x1="394.4" y1="100.8" x2="399.6" y2="100.8" stroke="#111" stroke-width="1.1"/>
<line x1="443.1" y1="40.7" x2="443.1" y2="72.3" stroke="#111" stroke-width="1.1"/>
<line x1="443.1" y1="103.0" x2="443.1" y2="137.2" stroke="#111" stroke-width="1.1"/>
<line x1="440.5" y1="40.7" x2="445.7" y2="40.7" stroke="#111" stroke-width="1.1"/>
<line x1="440.5" y1="72.3" x2="445.7" y2="72.3" stroke="#111" stroke-width="1.1"/>
<line x1="440.5" y1="103.0" x2="445.7" y2="103.0" stroke="#111" stroke-width="1.1"/>
<line x1="440.5" y1="114.6" x2="445.7" y2="114.6" stroke="#111" stroke-width="1.1"/>
<line x1="440.5" y1="137.2" x2="445.7" y2="137.2" stroke="#111" stroke-width="1.1"/>
<line x1="502.0" y1="70.0" x2="507.2" y2="70.0" stroke="#111" stroke-width="1.1"/>
<line x1="502.0" y1="100.7" x2="507.2" y2="100.7" stroke="#111" stroke-width="1.1"/>
<polyline points="289.4,72.0 335.5,62.2 397.0,52.3 443.1,46.4 504.6,33.8" fill="none" stroke="#32224a" stroke-width="1.7"/>
<polyline points="289.4,59.8 335.5,84.1 397.0,96.9 443.1,109.5 504.6,108.8" fill="none" stroke="#2a4262" stroke-width="1.7"/>
<polyline points="289.4,69.4 335.5,89.0 397.0,107.5 443.1,119.7 504.6,119.7" fill="none" stroke="#9a1838" stroke-width="1.7"/>
<polyline points="289.4,74.3 335.5,66.6 397.0,60.7 443.1,55.0 504.6,38.2" fill="none" stroke="#7cac56" stroke-width="1.7"/>
<circle cx="289.4" cy="72.0" r="2.5" fill="#4a3a5e" stroke="#1a1a1a" stroke-width="0.9"/>
<circle cx="335.5" cy="62.2" r="2.5" fill="#4a3a5e" stroke="#1a1a1a" stroke-width="0.9"/>
<circle cx="397.0" cy="52.3" r="2.5" fill="#4a3a5e" stroke="#1a1a1a" stroke-width="0.9"/>
<circle cx="443.1" cy="46.4" r="2.5" fill="#4a3a5e" stroke="#1a1a1a" stroke-width="0.9"/>
<circle cx="504.6" cy="33.8" r="2.5" fill="#4a3a5e" stroke="#1a1a1a" stroke-width="0.9"/>
<circle cx="289.4" cy="59.8" r="2.5" fill="#4c6282" stroke="#1a1a1a" stroke-width="0.9"/>
<circle cx="335.5" cy="84.1" r="2.5" fill="#4c6282" stroke="#1a1a1a" stroke-width="0.9"/>
<circle cx="397.0" cy="96.9" r="2.5" fill="#4c6282" stroke="#1a1a1a" stroke-width="0.9"/>
<circle cx="443.1" cy="109.5" r="2.5" fill="#4c6282" stroke="#1a1a1a" stroke-width="0.9"/>
<circle cx="504.6" cy="108.8" r="2.5" fill="#4c6282" stroke="#1a1a1a" stroke-width="0.9"/>
<circle cx="289.4" cy="69.4" r="2.5" fill="#861a3a" stroke="#1a1a1a" stroke-width="0.9"/>
<circle cx="335.5" cy="89.0" r="2.5" fill="#861a3a" stroke="#1a1a1a" stroke-width="0.9"/>
<circle cx="397.0" cy="107.5" r="2.5" fill="#861a3a" stroke="#1a1a1a" stroke-width="0.9"/>
<circle cx="443.1" cy="119.7" r="2.5" fill="#861a3a" stroke="#1a1a1a" stroke-width="0.9"/>
<circle cx="504.6" cy="119.7" r="2.5" fill="#861a3a" stroke="#1a1a1a" stroke-width="0.9"/>
<circle cx="289.4" cy="74.3" r="2.5" fill="#86b266" stroke="#1a1a1a" stroke-width="0.9"/>
<circle cx="335.5" cy="66.6" r="2.5" fill="#86b266" stroke="#1a1a1a" stroke-width="0.9"/>
<circle cx="397.0" cy="60.7" r="2.5" fill="#86b266" stroke="#1a1a1a" stroke-width="0.9"/>
<circle cx="443.1" cy="55.0" r="2.5" fill="#86b266" stroke="#1a1a1a" stroke-width="0.9"/>
<circle cx="504.6" cy="38.2" r="2.5" fill="#86b266" stroke="#1a1a1a" stroke-width="0.9"/>
<line x1="290.8" y1="187.9" x2="315" y2="187.9" stroke="#32224a" stroke-width="1.7"/>
<circle cx="303.3" cy="187.9" r="2.6" fill="#4a3a5e" stroke="#1a1a1a" stroke-width="0.9"/>
<text x="319" y="190.6" font-size="7.6" textLength="24.9" lengthAdjust="spacingAndGlyphs" fill="#222">Control</text>
<line x1="290.8" y1="201.8" x2="315" y2="201.8" stroke="#7cac56" stroke-width="1.7"/>
<circle cx="303.3" cy="201.8" r="2.6" fill="#86b266" stroke="#1a1a1a" stroke-width="0.9"/>
<text x="319" y="204.5" font-size="7.6" textLength="64.6" lengthAdjust="spacingAndGlyphs" fill="#222">VX-970 (60 mg/kg)</text>
<line x1="290.8" y1="215.8" x2="315" y2="215.8" stroke="#2a4262" stroke-width="1.7"/>
<circle cx="303.3" cy="215.8" r="2.6" fill="#4c6282" stroke="#1a1a1a" stroke-width="0.9"/>
<text x="319" y="218.5" font-size="7.6" textLength="87.0" lengthAdjust="spacingAndGlyphs" fill="#222">Gemcitabine (100 mg/kg)</text>
<line x1="290.8" y1="229.6" x2="315" y2="229.6" stroke="#9a1838" stroke-width="1.7"/>
<circle cx="303.3" cy="229.6" r="2.6" fill="#861a3a" stroke="#1a1a1a" stroke-width="0.9"/>
<text x="319" y="232.3" font-size="7.6" textLength="157.4" lengthAdjust="spacingAndGlyphs" fill="#222">VX-970 (60 mg/kg) + gemcitabine (100 mg/kg)</text>
<text x="240.4" y="260.8" font-size="11.9" font-weight="bold" fill="#000">C</text>
<rect x="289.5" y="266.8" width="215.60000000000002" height="146.09999999999997" fill="none" stroke="#111" stroke-width="1.5"/>
<text x="286.0" y="415.8" font-size="8.3" text-anchor="end" fill="#222">0</text>
<text x="286.0" y="388.0" font-size="8.3" text-anchor="end" fill="#222">0.2</text>
<text x="286.0" y="360.2" font-size="8.3" text-anchor="end" fill="#222">0.4</text>
<text x="286.0" y="332.3" font-size="8.3" text-anchor="end" fill="#222">0.6</text>
<text x="286.0" y="304.5" font-size="8.3" text-anchor="end" fill="#222">0.8</text>
<text x="286.0" y="276.7" font-size="8.3" text-anchor="end" fill="#222">1</text>
<text x="289.5" y="423.1" font-size="8.3" text-anchor="middle" fill="#222">0</text>
<text x="313.7" y="423.1" font-size="8.3" text-anchor="middle" fill="#222">20</text>
<text x="337.9" y="423.1" font-size="8.3" text-anchor="middle" fill="#222">40</text>
<text x="362.1" y="423.1" font-size="8.3" text-anchor="middle" fill="#222">60</text>
<text x="386.3" y="423.1" font-size="8.3" text-anchor="middle" fill="#222">80</text>
<text x="410.5" y="423.1" font-size="8.3" text-anchor="middle" fill="#222">100</text>
<text x="434.7" y="423.1" font-size="8.3" text-anchor="middle" fill="#222">120</text>
<text x="458.9" y="423.1" font-size="8.3" text-anchor="middle" fill="#222">140</text>
<text x="483.1" y="423.1" font-size="8.3" text-anchor="middle" fill="#222">160</text>
<text x="507.3" y="423.1" font-size="8.3" text-anchor="middle" fill="#222">180</text>
<text x="345.9" y="436.0" font-size="9" textLength="95" lengthAdjust="spacingAndGlyphs" fill="#111" stroke="#111" stroke-width="0.3">Growth (days post-i.f. injection)</text>
<text transform="translate(269.7,370.4) rotate(-90)" font-size="8.6" textLength="58.4" lengthAdjust="spacingAndGlyphs" fill="#111" stroke="#111" stroke-width="0.3">Cumulative survival</text>
<path d="M289.5,273.8 H412.8 V301.6 H489.5" fill="none" stroke="#9a1840" stroke-width="1.5"/>
<path d="M289.5,273.8 H361.8 V320.2 H366.9 V343.3 H387.7 V366.5 H394.5 V389.7 H399.2 V412.9" fill="none" stroke="#2c4270" stroke-width="1.5"/>
<path d="M289.5,273.8 H321.0 V297.0 H324.6 V320.2 H333.5 V343.3 H336.9 V389.7 H340.6 V412.9" fill="none" stroke="#3a2466" stroke-width="1.5"/>
<path d="M289.5,273.8 H324.6 V297.0 H336.9 V343.3 H340.6 V366.5 H344.0 V389.7 H347.0 V412.9" fill="none" stroke="#7db84e" stroke-width="1.5"/>
<text x="399.8" y="310.8" font-size="8" font-weight="bold" textLength="27.2" lengthAdjust="spacingAndGlyphs" fill="#4a2c66">Control</text>
<text x="399.8" y="320.0" font-size="8" font-weight="bold" textLength="69.3" lengthAdjust="spacingAndGlyphs" fill="#7bb24e">VX-970 (60 mg/kg)</text>
<text x="406.2" y="329.7" font-size="7.6" textLength="33.6" lengthAdjust="spacingAndGlyphs" fill="#222">vs. control</text>
<text x="463.3" y="329.7" font-size="7.8" textLength="28.8" lengthAdjust="spacingAndGlyphs" fill="#222">p=0.103</text>
<text x="399.8" y="339.4" font-size="8" font-weight="bold" textLength="93.7" lengthAdjust="spacingAndGlyphs" fill="#34507e">Gemcitabine (100 mg/kg)</text>
<text x="406.2" y="348.8" font-size="7.6" textLength="35.6" lengthAdjust="spacingAndGlyphs" fill="#222">vs. VX-970</text>
<text x="463.3" y="348.8" font-size="7.8" textLength="28.8" lengthAdjust="spacingAndGlyphs" fill="#222">p&lt;0.001</text>
<text x="406.2" y="358.4" font-size="7.6" textLength="33.6" lengthAdjust="spacingAndGlyphs" fill="#222">vs. control</text>
<text x="463.3" y="358.4" font-size="7.8" textLength="28.8" lengthAdjust="spacingAndGlyphs" fill="#222">p=0.001</text>
<text x="399.8" y="370.8" font-size="8" font-weight="bold" textLength="69.5" lengthAdjust="spacingAndGlyphs" fill="#9a1840">VX-970 (60 mg/kg)</text>
<text x="399.8" y="379.6" font-size="8" font-weight="bold" textLength="100.1" lengthAdjust="spacingAndGlyphs" fill="#9a1840">+ gemcitabine (100 mg/kg)</text>
<text x="402.7" y="389.3" font-size="7.6" textLength="50.5" lengthAdjust="spacingAndGlyphs" fill="#222">vs. gemcitabine</text>
<text x="462.2" y="389.3" font-size="7.8" textLength="28.3" lengthAdjust="spacingAndGlyphs" fill="#222">p=0.001</text>
<text x="402.7" y="398.5" font-size="7.6" textLength="35.4" lengthAdjust="spacingAndGlyphs" fill="#222">vs. VX-970</text>
<text x="462.2" y="398.5" font-size="7.8" textLength="28.3" lengthAdjust="spacingAndGlyphs" fill="#222">p=0.001</text>
<text x="402.7" y="407.4" font-size="7.6" textLength="33.0" lengthAdjust="spacingAndGlyphs" fill="#222">vs. control</text>
<text x="462.2" y="407.4" font-size="7.8" textLength="28.3" lengthAdjust="spacingAndGlyphs" fill="#222">p=0.001</text>
<rect x="0" y="0" width="520" height="1" fill="#000"/>
<rect x="0" y="0" width="1" height="499" fill="#000"/>
<rect x="518" y="0" width="1" height="499" fill="#888"/>
<rect x="0" y="497" width="520" height="1" fill="#aaa"/>
<rect x="519" y="0" width="1" height="499" fill="#000"/>
<rect x="0" y="498" width="520" height="1" fill="#000"/>
</svg>
</body></html>
